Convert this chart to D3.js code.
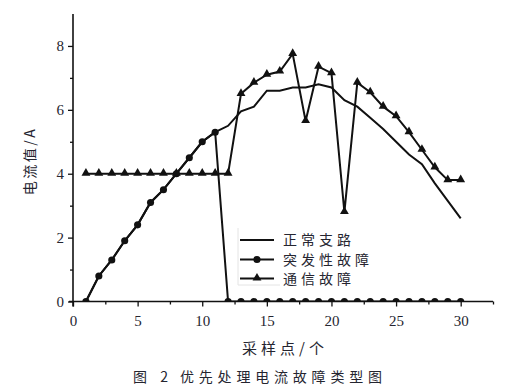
<!DOCTYPE html>
<html>
<head>
<meta charset="utf-8">
<script src="https://cdn.jsdelivr.net/npm/d3@7"></script>
<style>
  html, body { margin: 0; padding: 0; background: #fff; }
  svg { display: block; }
  .num { font-family: "Liberation Serif", "Times New Roman", serif; }
  .cjk { font-family: "Noto Sans CJK SC", "Noto Sans CJK JP", sans-serif; }
</style>
</head>
<body>
<svg id="chart" width="520" height="390"></svg>
<script>
// ---- data ----
const samples = [1,2,3,4,5,6,7,8,9,10,11,12,13,14,15,16,17,18,19,20,21,22,23,24,25,26,27,28,29,30];
const normalBranch = [0,0.8,1.3,1.9,2.4,3.1,3.5,4.0,4.5,5.0,5.3,5.5,5.95,6.1,6.6,6.6,6.7,6.7,6.8,6.7,6.3,6.1,5.75,5.4,5.0,4.6,4.3,3.7,3.15,2.6];
const suddenFault = [0,0.8,1.3,1.9,2.4,3.1,3.5,4.0,4.5,5.0,5.3,0,0,0,0,0,0,0,0,0,0,0,0,0,0,0,0,0,0,0];
const commFault = [4,4,4,4,4,4,4,4,4,4,4,4,6.5,6.85,7.1,7.2,7.75,5.65,7.35,7.15,2.8,6.85,6.55,6.1,5.8,5.3,4.75,4.2,3.8,3.8];
const xMajorTicks = [0,5,10,15,20,25,30];
const xMinorTicks = [2.5,7.5,12.5,17.5,22.5,27.5,32.5];
const yMajorTicks = [0,2,4,6,8];
const yMinorTicks = [1,3,5,7];
const seriesNames = ["正常支路","突发性故障","通信故障"];
const xTitle = "采样点/个";
const yTitle = "电流值/A";
const captionNum = "图 2";
const captionText = "优先处理电流故障类型图";

// ---- layout ----
const svg = d3.select("#chart");
const x = d3.scaleLinear().domain([0, 32.5]).range([73, 493]);
const y = d3.scaleLinear().domain([0, 9]).range([301.5, 14]);
const ink = "#111";
const textCol = "#252530";

// clip
svg.append("defs").append("clipPath").attr("id","plotclip")
  .append("rect").attr("x", x(0)).attr("y", y(9)-2)
  .attr("width", x(32.5)-x(0)).attr("height", y(0)-y(9)+2);

// axes
const xAxis = svg.append("g").attr("transform", `translate(0,${y(0)})`)
  .call(d3.axisBottom(x).tickValues(xMajorTicks).tickSize(5).tickPadding(9).tickFormat(d3.format("d")));
xAxis.attr("font-family", null);
xAxis.select(".domain").attr("d", `M${x(0)-4},0H${x(32.5)}`).attr("stroke", ink).attr("stroke-width", 1.6);
xAxis.selectAll(".tick line").attr("stroke", ink).attr("stroke-width", 1.3);
xAxis.selectAll(".tick text").attr("class","num").style("font-size","15px").attr("fill", textCol);
const xMinor = svg.append("g").attr("transform", `translate(0,${y(0)})`)
  .call(d3.axisBottom(x).tickValues(xMinorTicks).tickSize(3).tickFormat(""));
xMinor.select(".domain").remove();
xMinor.selectAll(".tick line").attr("stroke", ink).attr("stroke-width", 1.3);

const yAxis = svg.append("g").attr("transform", `translate(${x(0)},0)`)
  .call(d3.axisLeft(y).tickValues(yMajorTicks).tickSize(5).tickPadding(4).tickFormat(d3.format("d")));
yAxis.attr("font-family", null);
yAxis.select(".domain").attr("d", `M0,${y(0)+5}V${y(9)}`).attr("stroke", ink).attr("stroke-width", 1.6);
yAxis.selectAll(".tick line").attr("stroke", ink).attr("stroke-width", 1.3);
yAxis.selectAll(".tick text").attr("class","num").style("font-size","15px").attr("fill", textCol);
const yMinor = svg.append("g").attr("transform", `translate(${x(0)},0)`)
  .call(d3.axisLeft(y).tickValues(yMinorTicks).tickSize(3).tickFormat(""));
yMinor.select(".domain").remove();
yMinor.selectAll(".tick line").attr("stroke", ink).attr("stroke-width", 1.3);

// series
const plot = svg.append("g").attr("clip-path", "url(#plotclip)");
const line = d3.line().x((d,i) => x(samples[i])).y(d => y(d));
const circleSym = d3.symbol().type(d3.symbolCircle).size(40);
const triSym = d3.symbol().type(d3.symbolTriangle).size(34);

plot.append("path").datum(normalBranch).attr("d", line)
  .attr("fill","none").attr("stroke", ink).attr("stroke-width", 2);
plot.append("path").datum(suddenFault).attr("d", line)
  .attr("fill","none").attr("stroke", ink).attr("stroke-width", 2);
plot.append("path").datum(commFault).attr("d", line)
  .attr("fill","none").attr("stroke", ink).attr("stroke-width", 2);

plot.selectAll(".circ").data(suddenFault).enter().append("path")
  .attr("d", circleSym).attr("fill", ink)
  .attr("transform", (d,i) => `translate(${x(samples[i])},${y(d)})`);
plot.selectAll(".tri").data(commFault).enter().append("path")
  .attr("d", triSym).attr("fill", ink)
  .attr("transform", (d,i) => `translate(${x(samples[i])},${y(d)-0.5})`);

// legend
const lg = svg.append("g");
lg.append("path").attr("d", "M238,228V285H280").attr("fill","none").attr("stroke","#e4e4e4").attr("stroke-width",1);
const rowsY = [240, 259.5, 278.5];
seriesNames.forEach((name, i) => {
  lg.append("line").attr("x1", 240).attr("x2", 274).attr("y1", rowsY[i]).attr("y2", rowsY[i])
    .attr("stroke", ink).attr("stroke-width", 2);
  if (i === 1) lg.append("path").attr("d", circleSym).attr("fill", ink).attr("transform", `translate(257,${rowsY[i]})`);
  if (i === 2) lg.append("path").attr("d", triSym).attr("fill", ink).attr("transform", `translate(257,${rowsY[i]-0.5})`);
  lg.append("text").attr("class","cjk").attr("x", 283).attr("y", rowsY[i] + 5).text(name)
    .style("font-size","14px").attr("letter-spacing", "4px").attr("fill", textCol);
});

// titles
svg.append("text").attr("class","cjk").attr("transform", "translate(35,161) rotate(-90)")
  .attr("text-anchor","middle").text(yTitle)
  .style("font-size","14px").attr("letter-spacing", "2.5px").attr("fill", textCol);
svg.append("text").attr("class","cjk").attr("x", 242).attr("y", 354).text(xTitle)
  .style("font-size","15px").attr("letter-spacing", "4px").attr("fill", textCol);
svg.append("text").attr("class","cjk").attr("x", 133).attr("y", 382).text(captionNum)
  .style("font-size","14px").attr("letter-spacing", "5px").attr("fill", textCol);
svg.append("text").attr("class","cjk").attr("x", 180).attr("y", 382).text(captionText)
  .style("font-size","14px").attr("letter-spacing", "4.8px").attr("fill", textCol);
</script>
</body>
</html>
